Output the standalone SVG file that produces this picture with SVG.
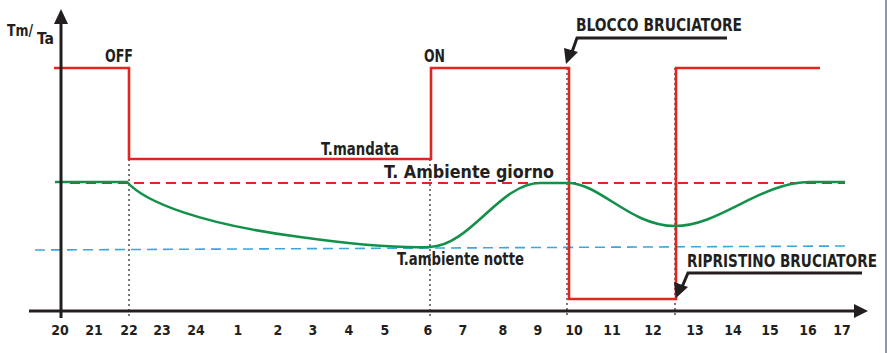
<svg xmlns="http://www.w3.org/2000/svg" width="887" height="353" viewBox="0 0 887 353">
<defs>
<style>
.t{font-family:"Liberation Sans Narrow","DejaVu Sans Condensed","Liberation Sans",sans-serif;font-weight:bold;fill:#231f20}
.lbl{font-size:18px}
.tick{font-size:14px;text-anchor:middle}
.ax{stroke:#231f20;stroke-width:3;fill:none}
.red{stroke:#e0261f;stroke-width:2.6;fill:none}
.grn{stroke:#13914a;stroke-width:2.6;fill:none}
.dot{stroke:#231f20;stroke-width:1.2;stroke-dasharray:2 3;fill:none}
.ptr{stroke:#231f20;stroke-width:3;fill:none}
</style>
</defs>
<rect width="887" height="353" fill="#ffffff"/>
<line x1="886" y1="0" x2="886" y2="353" stroke="#6b7791" stroke-width="1.5"/>

<g id="connectors">
<line x1="70" y1="183" x2="845" y2="183" stroke="#e0261f" stroke-width="2" stroke-dasharray="10 6"/>
<line x1="35" y1="250" x2="848" y2="246" stroke="#3aa7e0" stroke-width="1.6" stroke-dasharray="10 6"/>
<line class="dot" x1="129" y1="159" x2="129" y2="318"/>
<line class="dot" x1="430" y1="159" x2="430" y2="318"/>
<line class="dot" x1="567" y1="68" x2="567" y2="318"/>
<line class="dot" x1="675" y1="68" x2="675" y2="318"/>
<path class="red" d="M54,68 H129 V159 H431 V68 H569 V299 H676 V68 H820"/>
<path class="grn" d="M55,182 H127 C145,202 200,224 300,237 C350,244 400,248 430,247 C470,246 500,183 540,183 H568 C600,183 630,226 675,226 C720,226 760,182 810,182 H845"/>
<line class="ax" x1="61" y1="20" x2="61" y2="318"/>
<polygon points="61,9 54,24 68,24" fill="#231f20"/>
<line class="ax" x1="29" y1="311" x2="857" y2="311"/>
<polygon points="868,311 854,304 854,318" fill="#231f20"/>
<path class="ptr" d="M727,38 H577 L572,52"/>
<polygon points="566,64 564,48 578,52" fill="#231f20"/>
<path class="ptr" d="M862,273 H688 L682,287"/>
<polygon points="676,298 674,282 688,287" fill="#231f20"/>
</g>

<g id="axis-label">
<text class="t" x="7" y="36" font-size="16" textLength="26" lengthAdjust="spacingAndGlyphs">Tm/</text>
<text class="t" x="37" y="44" font-size="16" textLength="17" lengthAdjust="spacingAndGlyphs">Ta</text>
</g>
<g id="off"><text class="t lbl" x="105" y="62" textLength="28" lengthAdjust="spacingAndGlyphs">OFF</text></g>
<g id="on"><text class="t lbl" x="424" y="62" textLength="21" lengthAdjust="spacingAndGlyphs">ON</text></g>
<g id="blocco"><text class="t lbl" x="576" y="31" textLength="166" lengthAdjust="spacingAndGlyphs">BLOCCO BRUCIATORE</text></g>
<g id="mandata"><text class="t lbl" x="321" y="155" textLength="78" lengthAdjust="spacingAndGlyphs">T.mandata</text></g>
<g id="giorno"><text class="t lbl" x="384" y="178" textLength="170" lengthAdjust="spacingAndGlyphs">T. Ambiente giorno</text></g>
<g id="notte"><text class="t lbl" x="397" y="265" textLength="127" lengthAdjust="spacingAndGlyphs">T.ambiente notte</text></g>
<g id="ripristino"><text class="t lbl" x="687" y="267" textLength="190" lengthAdjust="spacingAndGlyphs">RIPRISTINO  BRUCIATORE</text></g>

<g id="ticks" class="t tick">
<text x="60" y="335">20</text>
<text x="94" y="335">21</text>
<text x="129" y="335">22</text>
<text x="162" y="335">23</text>
<text x="196" y="335">24</text>
<text x="238" y="335">1</text>
<text x="278" y="335">2</text>
<text x="313" y="335">3</text>
<text x="349" y="335">4</text>
<text x="385" y="335">5</text>
<text x="428" y="335">6</text>
<text x="463" y="335">7</text>
<text x="503" y="335">8</text>
<text x="538" y="335">9</text>
<text x="574" y="335">10</text>
<text x="612" y="335">11</text>
<text x="653" y="335">12</text>
<text x="695" y="335">13</text>
<text x="733" y="335">14</text>
<text x="770" y="335">15</text>
<text x="808" y="335">16</text>
<text x="842" y="335">17</text>
</g>
</svg>
